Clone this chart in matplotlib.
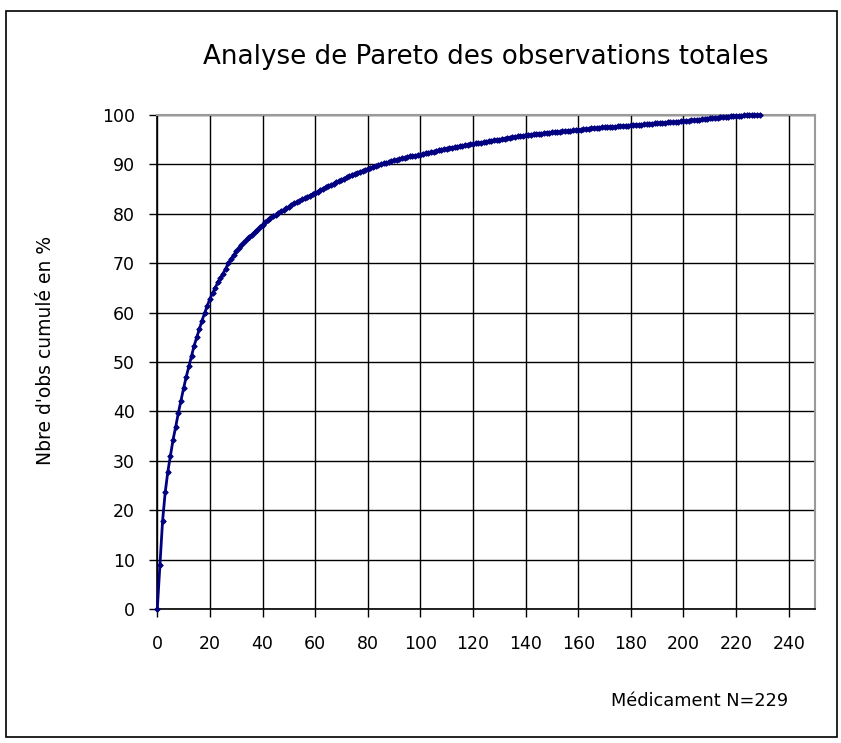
import matplotlib

matplotlib.use("Agg")
import matplotlib.pyplot as plt
from matplotlib.patches import Rectangle
from matplotlib.ticker import MultipleLocator

# ------------------------------------------------------------
# Data: cumulative % of observations, one value per medication rank
# ------------------------------------------------------------
cumul_pct = [
    0.0, 9.0, 17.8, 23.6, 27.8, 31.0, 34.3, 36.9, 39.7, 42.2,
    44.7, 47.0, 49.1, 51.2, 53.3, 55.0, 56.7, 58.4, 59.9, 61.4,
    62.8, 63.9, 65.0, 66.1, 67.0, 67.9, 68.9, 70.0, 70.8, 71.6,
    72.4, 73.0, 73.6, 74.2, 74.8, 75.3, 75.8, 76.3, 76.8, 77.3,
    77.8, 78.3, 78.7, 79.1, 79.5, 79.8, 80.1, 80.5, 80.8, 81.1,
    81.4, 81.8, 82.1, 82.3, 82.6, 82.9, 83.1, 83.4, 83.7, 84.0,
    84.2, 84.5, 84.8, 85.1, 85.4, 85.6, 85.8, 86.1, 86.4, 86.6,
    86.9, 87.1, 87.4, 87.6, 87.9, 88.1, 88.3, 88.5, 88.7, 88.9,
    89.1, 89.3, 89.5, 89.6, 89.8, 90.0, 90.2, 90.3, 90.5, 90.6,
    90.8, 90.9, 91.0, 91.2, 91.3, 91.5, 91.6, 91.7, 91.8, 91.9,
    92.0, 92.2, 92.3, 92.4, 92.5, 92.6, 92.7, 92.9, 93.0, 93.1,
    93.2, 93.3, 93.4, 93.5, 93.6, 93.7, 93.8, 93.9, 94.0, 94.1,
    94.2, 94.3, 94.4, 94.4, 94.5, 94.6, 94.7, 94.8, 94.9, 95.0,
    95.0, 95.1, 95.2, 95.3, 95.4, 95.5, 95.6, 95.7, 95.7, 95.8,
    95.9, 95.9, 96.0, 96.1, 96.1, 96.2, 96.2, 96.3, 96.4, 96.4,
    96.5, 96.5, 96.6, 96.6, 96.7, 96.7, 96.8, 96.8, 96.9, 96.9,
    97.0, 97.0, 97.1, 97.1, 97.2, 97.3, 97.3, 97.4, 97.4, 97.5,
    97.5, 97.5, 97.6, 97.6, 97.6, 97.7, 97.7, 97.8, 97.8, 97.8,
    97.9, 97.9, 98.0, 98.0, 98.0, 98.1, 98.1, 98.2, 98.2, 98.3,
    98.3, 98.3, 98.4, 98.4, 98.5, 98.5, 98.5, 98.6, 98.6, 98.7,
    98.7, 98.8, 98.8, 98.9, 98.9, 99.0, 99.0, 99.1, 99.1, 99.2,
    99.3, 99.3, 99.4, 99.4, 99.5, 99.5, 99.6, 99.6, 99.7, 99.7,
    99.8, 99.8, 99.8, 99.9, 99.9, 99.9, 99.9, 100.0, 100.0, 100.0,
]
rank = list(range(len(cumul_pct)))

title = "Analyse de Pareto des observations totales"
ylabel = "Nbre d'obs cumulé en %"
xlabel = "Médicament N=229"

# ------------------------------------------------------------
# Figure
# ------------------------------------------------------------
W, H = 841, 743
fig = plt.figure(figsize=(W / 100, H / 100), dpi=100)
plt.rcParams["font.family"] = ["DejaVu Sans"]


def fx(px):
    return px / W


def fy(py):
    return 1 - py / H


# outer frame of the chart object
fig.patches.append(Rectangle((fx(6), fy(737)), fx(831), (737 - 11) / H,
                             transform=fig.transFigure, fill=False,
                             edgecolor="black", linewidth=1.2))

left, right, top, bottom = 157.3, 815, 115, 609
ax = fig.add_axes([fx(left), fy(bottom), fx(right - left), (bottom - top) / H])

ax.plot(rank, cumul_pct, color="#000080", linewidth=2.0,
        marker="D", markersize=2.8, markeredgewidth=0.7, zorder=3, clip_on=False)

ax.set_xlim(0, 250)
ax.set_ylim(0, 100)
ax.xaxis.set_major_locator(MultipleLocator(20))
ax.yaxis.set_major_locator(MultipleLocator(10))
ax.set_xticks(range(0, 241, 20))

ax.grid(True, color="black", linewidth=1.0)
ax.set_axisbelow(True)
for side in ("top", "right"):
    ax.spines[side].set_color("#9a9a9a")
    ax.spines[side].set_linewidth(1.5)
for side in ("left", "bottom"):
    ax.spines[side].set_color("black")
    ax.spines[side].set_linewidth(1.2)

ax.tick_params(axis="both", direction="out", length=6, width=1.0,
               labelsize=12.5, colors="black")
ax.tick_params(axis="x", pad=13)
ax.tick_params(axis="y", pad=10)

fig.text(fx(486), fy(57), title, ha="center", va="center", fontsize=18.8)
fig.text(fx(46), fy(350), ylabel, ha="center", va="center", rotation=90, fontsize=13.5)
fig.text(fx(788), fy(701), xlabel, ha="right", va="center", fontsize=12.8)

fig.savefig("out.png", dpi=100)
plt.close(fig)
